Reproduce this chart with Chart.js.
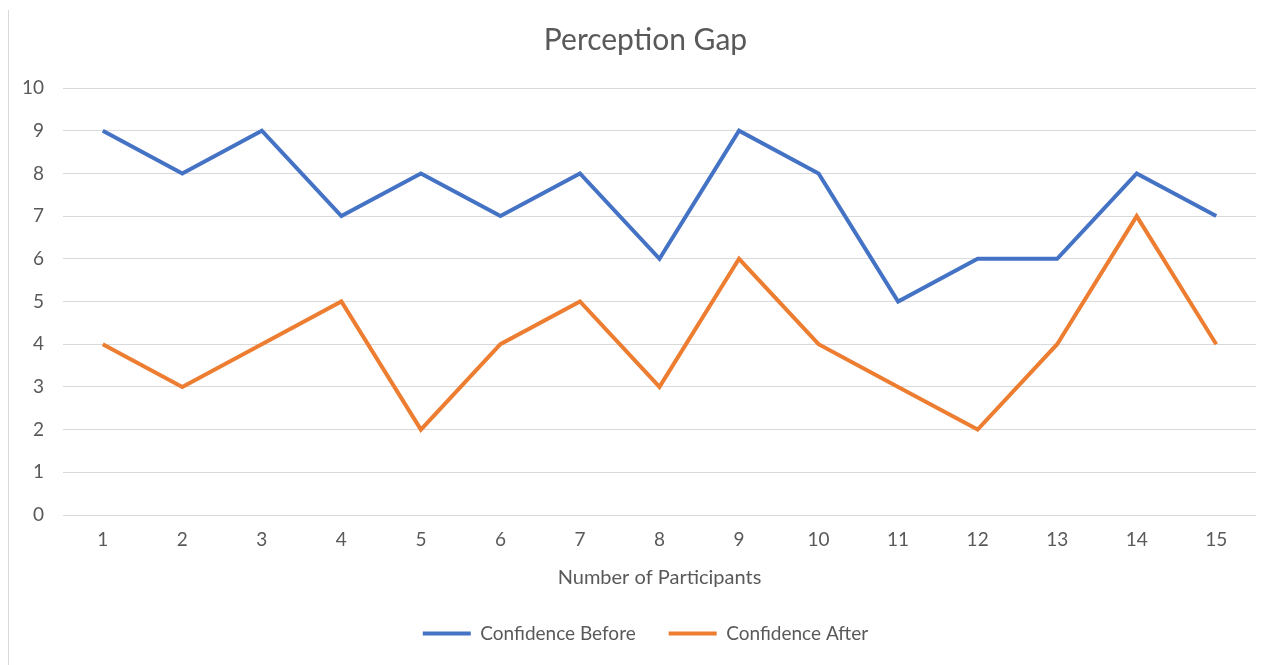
<!DOCTYPE html>
<html lang="en">
<head>
    <meta charset="UTF-8">
    <title>Perception Gap</title>
    <script src="https://cdn.jsdelivr.net/npm/chart.js"></script>
    <style>
        body {
            margin: 0;
            background: #ffffff;
        }
        #wrap {
            position: relative;
            width: 1274px;
            height: 665px;
        }
        #edge {
            position: absolute;
            left: 8px;
            top: 10px;
            width: 1px;
            height: 655px;
            background: #d9d9d9;
        }
    </style>
</head>
<body>
    <div id="wrap">
        <div id="edge"></div>
        <canvas id="gapChart" width="1274" height="665"></canvas>
    </div>

    <script>
        const participants = ['1', '2', '3', '4', '5', '6', '7', '8', '9', '10', '11', '12', '13', '14', '15'];
        const confidenceBefore = [9, 8, 9, 7, 8, 7, 8, 6, 9, 8, 5, 6, 6, 8, 7];
        const confidenceAfter = [4, 3, 4, 5, 2, 4, 5, 3, 6, 4, 3, 2, 4, 7, 4];

        const textColor = '#595959';
        const fontFamily = 'Lato, "Noto Sans", sans-serif';

        const ctx = document.getElementById('gapChart').getContext('2d');
        new Chart(ctx, {
            type: 'line',
            data: {
                labels: participants,
                datasets: [{
                    label: 'Confidence Before',
                    data: confidenceBefore,
                    borderColor: '#4472c4',
                    backgroundColor: '#4472c4',
                    borderWidth: 4,
                    pointRadius: 0,
                    tension: 0
                }, {
                    label: 'Confidence After',
                    data: confidenceAfter,
                    borderColor: '#ed7d31',
                    backgroundColor: '#ed7d31',
                    borderWidth: 4,
                    pointRadius: 0,
                    tension: 0
                }]
            },
            options: {
                responsive: false,
                animation: false,
                layout: {
                    padding: { left: 35, right: 18, top: 0, bottom: 12 }
                },
                plugins: {
                    title: {
                        display: true,
                        text: 'Perception Gap',
                        color: textColor,
                        font: { family: fontFamily, size: 30, weight: 'normal' },
                        padding: { top: 22, bottom: 30 }
                    },
                    legend: {
                        position: 'bottom',
                        labels: {
                            color: textColor,
                            font: { family: fontFamily, size: 19 },
                            usePointStyle: true,
                            pointStyle: 'line',
                            pointStyleWidth: 48,
                            padding: 33
                        }
                    },
                    tooltip: { enabled: false }
                },
                scales: {
                    x: {
                        offset: true,
                        afterFit: scale => { scale.height = 76; },
                        grid: { display: false, drawTicks: false },
                        border: { display: false },
                        ticks: {
                            color: textColor,
                            font: { family: fontFamily, size: 19 },
                            padding: 13,
                            maxRotation: 0
                        },
                        title: {
                            display: true,
                            text: 'Number of Participants',
                            color: textColor,
                            font: { family: fontFamily, size: 20 },
                            padding: { top: 0, bottom: 1 }
                        }
                    },
                    y: {
                        min: 0,
                        max: 10,
                        afterFit: scale => { scale.width = 28; },
                        grid: { color: '#d9d9d9', lineWidth: 1, drawTicks: false },
                        border: { display: false },
                        ticks: {
                            stepSize: 1,
                            color: textColor,
                            font: { family: fontFamily, size: 19 },
                            // labels sit in the left margin, right-aligned at x = 44
                            mirror: true,
                            crossAlign: 'far',
                            padding: -41
                        }
                    }
                }
            }
        });
    </script>
</body>
</html>
